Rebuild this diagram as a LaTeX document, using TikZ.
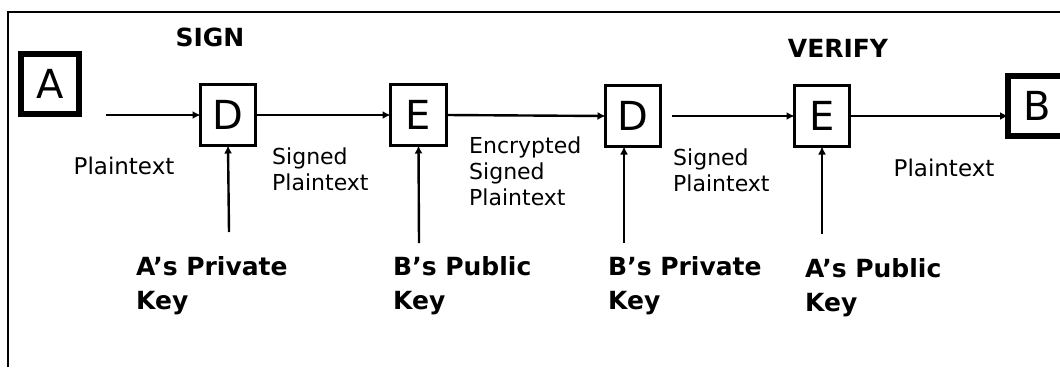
\documentclass[tikz,border=0pt]{standalone}
\usepackage{fontspec}
\setmainfont{DejaVu Sans}
\usetikzlibrary{arrows.meta}
\begin{document}
\begin{tikzpicture}[x=1pt,y=-1pt,
  stepbox/.style={draw,line width=3.5pt,inner sep=0pt,outer sep=0pt,
    minimum width=55pt,minimum height=61pt,font=\fontsize{40}{44}\selectfont},
  partybox/.style={draw,line width=6pt,inner sep=0pt,outer sep=0pt,
    minimum width=58pt,minimum height=60pt,font=\fontsize{40}{44}\selectfont},
  flow/.style={line width=2.4pt,-{Latex[length=8pt,width=8pt]}},
  lbl/.style={inner sep=0pt,align=left,font=\fontsize{22}{26}\selectfont},
  ptlbl/.style={inner sep=0pt,font=\fontsize{23}{27}\selectfont},
  keylbl/.style={inner sep=0pt,align=left,anchor=north west,font=\bfseries\fontsize{25}{34}\selectfont},
  title/.style={inner sep=0pt,font=\bfseries\fontsize{25}{30}\selectfont}]
\useasboundingbox (0,0) rectangle (1060,367);
% frame
\draw[line width=2.2pt] (8,367) -- (8,12) -- (1060,12);
% titles
\node[title] (sign) at (210,37) {SIGN};
\node[title] (verify) at (838,48) {VERIFY};
% boxes
\node[partybox] (A) at (50,84) {A};
\node[stepbox] (D1) at (228,115) {D};
\node[stepbox,minimum width=56pt] (E1) at (418.5,115) {E};
\node[stepbox] (D2) at (633,116) {D};
\node[stepbox] (E2) at (822,116) {E};
\node[partybox] (B) at (1037,106) {B};
% horizontal connectors
\coordinate (a0) at (106,115);
\coordinate (d2o) at (672,116);
\draw[flow] (a0) -- (D1.west);
\draw[flow] (D1.east) -- (E1.west);
\draw[flow] (E1.east) -- (D2.west);
\draw[flow] (d2o) -- (E2.west);
\draw[flow] (E2.east) -- (E2.east -| B.west);
% key connectors
\coordinate (k1) at (229,232);
\coordinate (k2) at (419,243);
\coordinate (k3) at (624,243);
\coordinate (k4) at (822,234);
\draw[flow] (k1) -- (D1.south);
\draw[flow] (k2) -- (E1.south);
\draw[flow] (k3) -- (k3 |- D2.south);
\draw[flow] (k4) -- (E2.south);
% flow labels
\node[ptlbl] (p1) at (124,166) {Plaintext};
\node[lbl,anchor=north west] (sp1) at (272,148) {Signed\\Plaintext};
\node[lbl,anchor=north west] (esp) at (469,137) {Encrypted\\Signed\\Plaintext};
\node[lbl,anchor=north west] (sp2) at (673,149) {Signed\\Plaintext};
\node[ptlbl] (p2) at (944,168) {Plaintext};
% key labels
\node[keylbl] (ka) at (136,256) {A’s Private\\Key};
\node[keylbl] (kb) at (393,256) {B’s Public\\Key};
\node[keylbl] (kc) at (608,256) {B’s Private\\Key};
\node[keylbl] (kd) at (805,258) {A’s Public\\Key};
\end{tikzpicture}
\end{document}
